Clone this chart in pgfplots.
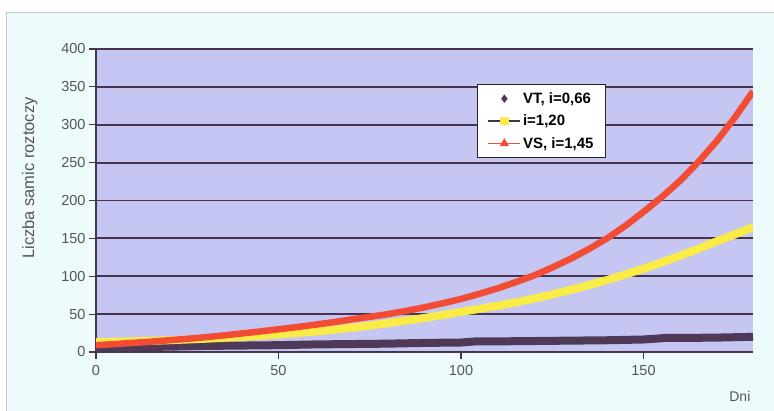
\documentclass[border=0pt]{standalone}
\usepackage{fontspec}
\setmainfont{Liberation Sans}
\usepackage{pgfplots}
\pgfplotsset{compat=1.18}
\definecolor{pagebg}{RGB}{238,251,253}
\definecolor{plotbg}{RGB}{198,198,242}
\definecolor{gridc}{RGB}{70,52,78}
\definecolor{vtc}{RGB}{78,58,88}
\definecolor{yelc}{RGB}{250,236,70}
\definecolor{redc}{RGB}{242,76,52}
\definecolor{tickc}{RGB}{85,85,85}

\begin{document}
\begin{tikzpicture}
\useasboundingbox (0pt,0pt) rectangle (774pt,411pt);
\fill[white] (0pt,0pt) rectangle (774pt,411pt);
\filldraw[fill=pagebg, draw=gray!45, line width=0.8pt] (6pt,-5pt) rectangle (790pt,399pt);
\begin{axis}[
    at={(96pt,59pt)}, anchor=south west,
    scale only axis, width=657pt, height=303pt,
    xmin=0, xmax=180, ymin=0, ymax=400,
    xtick={0,50,100,150},
    ytick={0,50,...,400},
    axis lines*=left,
    axis line style={gridc, line width=1.5pt},
    axis background/.style={fill=plotbg},
    ymajorgrids,
    grid style={gridc, line width=1.8pt},
    tick align=outside,
    major tick length=7pt,
    tick style={gridc, line width=1.2pt},
    tick label style={font=\fontsize{14.5}{16}\selectfont, text=tickc},
    xticklabel style={yshift=-3pt},
    /pgf/number format/assume math mode=true,
    xlabel={Dni},
    xlabel style={at={(axis description cs:0.98,-0.145)}, anchor=center,
                  font=\fontsize{14}{16}\selectfont, text=tickc},
    ylabel={Liczba samic roztoczy},
    ylabel style={at={(axis description cs:-0.1005,0.574)}, anchor=center,
                  font=\fontsize{16.5}{18}\selectfont, text=tickc},
    legend style={at={(0.58,0.885)}, anchor=north west,
                  font=\bfseries\fontsize{15}{17}\selectfont,
                  draw=black!85, line width=1.3pt, fill=white,
                  inner xsep=10pt, inner ysep=6pt, row sep=6pt},
    legend cell align=left,
    legend image code/.code={
        \draw[mark repeat=2, mark phase=2, #1]
            plot coordinates {(0pt,0pt) (16pt,0pt) (32pt,0pt)};
    },
]

% VT, i=0,66
\addplot[vtc, line width=8pt, forget plot] coordinates {
    (0,6) (10,6.5) (20,7) (30,8) (40,8.5) (50,9) (60,10) (70,10.5)
    (80,11) (90,12) (100,12.5) (104,14) (110,14) (120,14.5) (130,15)
    (140,15.5) (150,16.5) (156,18.5) (160,18.5) (170,19) (180,20)
};

% i=1,20
\addplot[yelc, line width=8pt, forget plot] coordinates {
    (0,13) (5,13.5) (10,14) (15,14.7) (20,15.5) (25,16.5) (30,17.5)
    (35,18.7) (40,20) (45,21.4) (50,23) (55,24.9) (60,27) (65,29.4)
    (70,32) (75,34.9) (80,38) (85,41.4) (90,45) (95,48.8) (100,53)
    (105,56.9) (110,61) (115,65.6) (120,70.5) (125,76) (130,82)
    (135,88.3) (140,95) (145,102.2) (150,110) (155,118.2) (160,127)
    (165,136.2) (170,146) (175,155.2) (180,165)
};

% VS, i=1,45
\addplot[redc, line width=6.5pt, forget plot] coordinates {
    (0,9) (5,10.4) (10,12) (15,13.6) (20,15.5) (25,17.4) (30,19.5)
    (35,21.9) (40,24.5) (45,27.1) (50,30) (55,32.9) (60,36) (65,39.3)
    (70,43) (75,46.4) (80,50) (85,54.3) (90,59) (95,64.3) (100,70)
    (105,76.7) (110,84) (115,92.2) (120,101) (125,111.5) (130,123)
    (135,135.8) (140,150) (145,166.5) (150,185) (155,204.5) (160,226)
    (165,250.7) (170,278) (175,309.4) (180,344)
};

\addlegendimage{only marks, mark=diamond*, mark size=3.2pt, vtc}
\addlegendentry{VT, i=0,66}
\addlegendimage{line width=1.3pt, draw=gridc, mark=square*, mark size=3.5pt,
                mark options={fill=yelc, draw=yelc}}
\addlegendentry{i=1,20}
\addlegendimage{line width=1.3pt, redc, mark=triangle*, mark size=4pt}
\addlegendentry{VS, i=1,45}
\end{axis}
\end{tikzpicture}
\end{document}
